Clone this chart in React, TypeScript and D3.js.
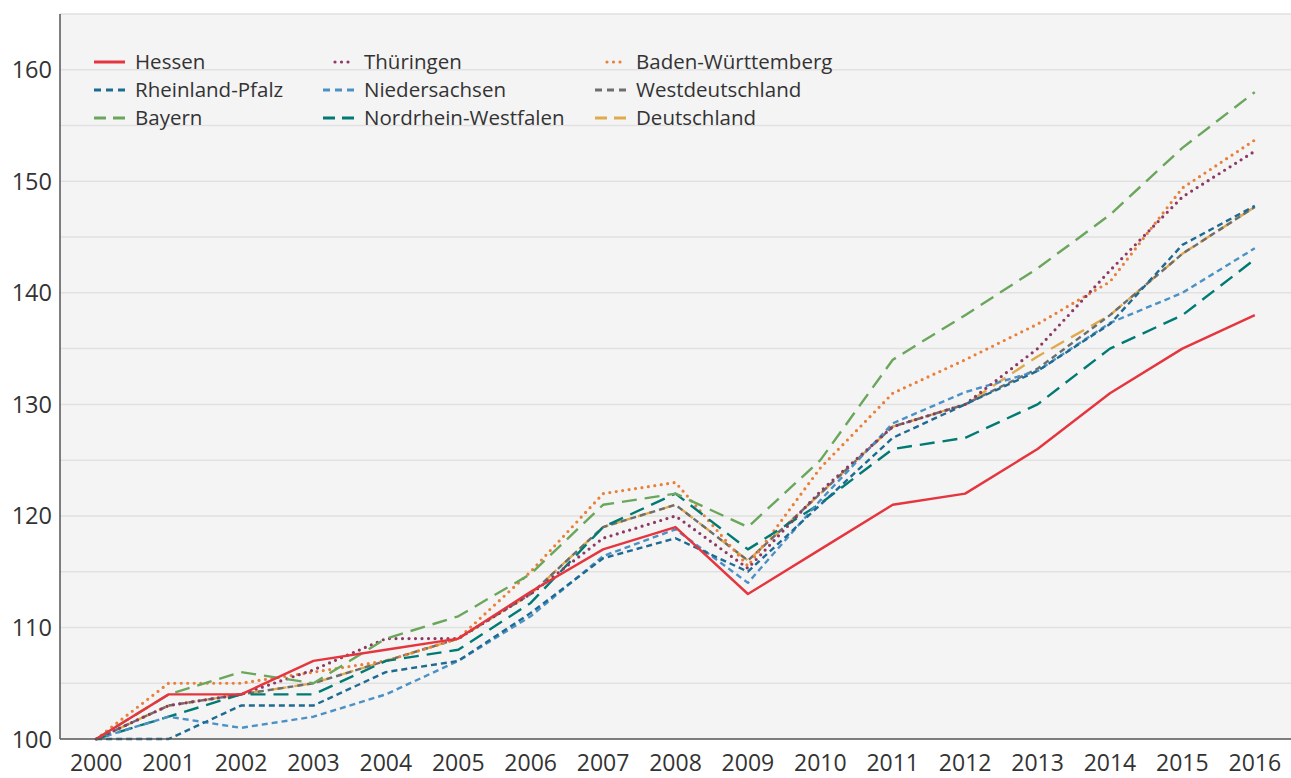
import React from "react";
import * as d3 from "d3";

const years = ["2000","2001","2002","2003","2004","2005","2006","2007","2008","2009","2010","2011","2012","2013","2014","2015","2016"];
const yTicks = [100, 110, 120, 130, 140, 150, 160];
const gridValues = [105, 110, 115, 120, 125, 130, 135, 140, 145, 150, 155, 160, 165];

const hessen = [100,104,104,107,108,109,113.2,117,119,113,117,121,122,126,131,135,138];
const rheinlandPfalz = [100,100,103,103,106,107,111.3,116.2,118,115,121,127,130,133,137.2,144.3,147.8];
const bayern = [100,104,106,105,109,111,114.8,121,122,119,125,134,138,142.2,147,153,158];
const thueringen = [100,103,104,106.2,109,109,113,118,120,115.3,122.2,128,130,135,142,148.6,152.7];
const niedersachsen = [100,102,101,102,104,107,111,116.4,118.8,114,121.4,128.3,131.1,133,137.3,140,144];
const nrw = [100,102,104,104,107,108,112.2,119,122,117,121.1,126,127,130,135,138,143];
const badenWuerttemberg = [100,105,105,106,107,109,115,122,123,115.5,124.3,131,134,137.2,141,149.4,153.7];
const westdeutschland = [100,103,104,105,107,109,113,119,121,116,122,128,130,133.2,138,143.5,147.7];
const deutschland = [100,103,104,105,107,109,113,119,121,116,122,128,130,134.3,138,143.5,147.7];

const seriesNames = ["Hessen","Rheinland-Pfalz","Bayern","Thüringen","Niedersachsen","Nordrhein-Westfalen","Baden-Württemberg","Westdeutschland","Deutschland"];
const seriesValues = [hessen, rheinlandPfalz, bayern, thueringen, niedersachsen, nrw, badenWuerttemberg, westdeutschland, deutschland];
const seriesColors = ["#e5353e","#1f6a91","#6aa65c","#8c3a63","#4b91c6","#007a73","#e8803a","#6d6e6e","#e2a94a"];
const seriesDash = ["", "6 4", "15 8", "0 6.5", "6 4", "15 8", "0 6.5", "6 4", "15 8"];

const W = 1291, H = 778;
const M = { left: 60, top: 14, right: 0, bottom: 39 };
const FONT = "'Open Sans', Lato, sans-serif";

export default function App() {
  const x = d3.scalePoint<string>().domain(years).range([M.left, W - M.right]).padding(0.5);
  const y = d3.scaleLinear().domain([100, 165]).range([H - M.bottom, M.top]);
  const line = d3.line<number>().x((_, i) => x(years[i]) as number).y((d) => y(d));

  const legendTextX = [135, 364, 636];
  const legendRows = [62, 90, 118];

  const order = seriesNames.map((_, i) => i).reverse();

  return (
    <svg width={W} height={H} style={{ position: "absolute", left: 0, top: 0, background: "#fff" }}>
      <rect x={M.left} y={M.top} width={W - M.left - M.right} height={H - M.bottom - M.top} fill="#f4f4f4" />
      {gridValues.map((v) => (
        <line key={v} x1={M.left} x2={W - M.right} y1={y(v)} y2={y(v)} stroke="#e1e1e1" strokeWidth={1.5} />
      ))}
      {order.map((i) => (
        <path
          key={seriesNames[i]}
          d={line(seriesValues[i]) || ""}
          fill="none"
          stroke={seriesColors[i]}
          strokeWidth={seriesDash[i].startsWith("0") ? 3.2 : 2.4}
          strokeDasharray={seriesDash[i] || undefined}
          strokeLinecap={seriesDash[i].startsWith("0") ? "round" : "butt"}
          strokeLinejoin="round"
        />
      ))}
      <line x1={M.left} x2={M.left} y1={M.top} y2={H - M.bottom} stroke="#555" strokeWidth={1.5} />
      <line x1={M.left} x2={W - M.right} y1={H - M.bottom} y2={H - M.bottom} stroke="#555" strokeWidth={1.5} />
      {yTicks.map((v) => (
        <text key={v} x={M.left - 8} y={y(v) + 8.5} textAnchor="end" fontFamily={FONT} fontSize={23.5} fill="#333">
          {v}
        </text>
      ))}
      {years.map((yr) => (
        <text key={yr} x={x(yr) as number} y={771} textAnchor="middle" fontFamily={FONT} fontSize={23} fill="#333">
          {yr}
        </text>
      ))}
      {seriesNames.map((name, i) => {
        const col = Math.floor(i / 3);
        const row = i % 3;
        const tx = legendTextX[col];
        const ly = legendRows[row];
        const dotted = seriesDash[i].startsWith("0");
        let dash = seriesDash[i];
        if (dash === "6 4") dash = "7 5";
        if (dash === "15 8") dash = "12 7";
        if (dotted) dash = "0 6.5";
        return (
          <g key={name}>
            <line
              x1={tx - (dotted ? 29 : 41)}
              x2={tx - (dotted ? 12 : 10)}
              y1={ly}
              y2={ly}
              stroke={seriesColors[i]}
              strokeWidth={dotted ? 3.2 : 3}
              strokeDasharray={dash || undefined}
              strokeLinecap={dotted ? "round" : "butt"}
            />
            <text x={tx} y={ly + 7} fontFamily={FONT} fontSize={20.5} fill="#333">
              {name}
            </text>
          </g>
        );
      })}
    </svg>
  );
}
